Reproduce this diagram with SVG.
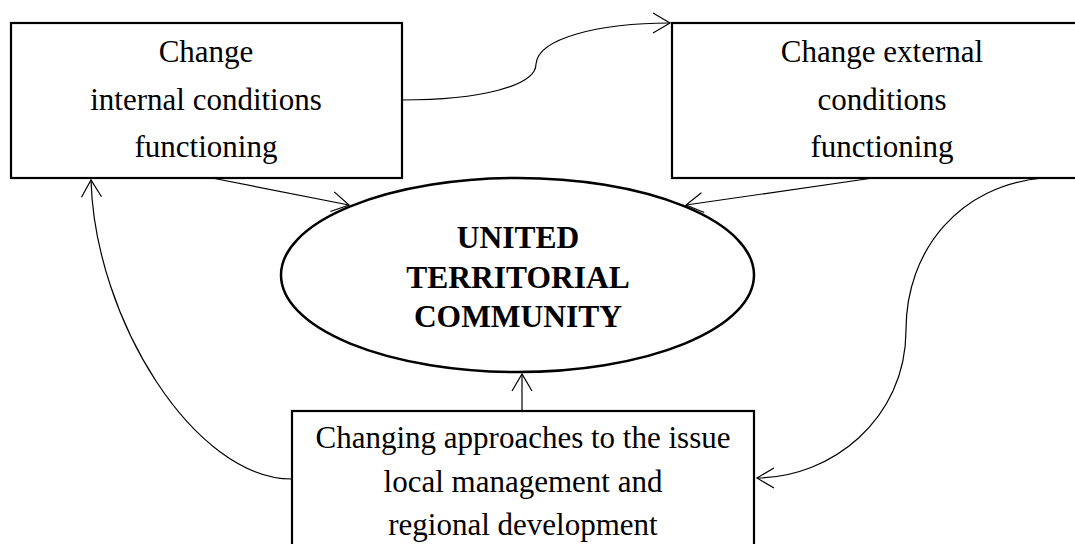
<svg xmlns="http://www.w3.org/2000/svg" width="1075" height="544" viewBox="0 0 1075 544">
<style>
.box{fill:#fff;stroke:#000;stroke-width:2.2}
.ell{fill:#fff;stroke:#000;stroke-width:2.5}
.t{font-family:"Liberation Serif","Times New Roman",serif;font-size:31px;fill:#000;text-anchor:middle}
.b{font-weight:bold;font-size:31.5px}
.c{fill:none;stroke:#000;stroke-width:1.2}
</style>
<defs>
<marker id="arr" viewBox="-20 -12 22 24" refX="0" refY="0" markerWidth="22" markerHeight="24" markerUnits="userSpaceOnUse" orient="auto">
<path d="M-17,-10 L0,0 L-17,10" fill="none" stroke="#000" stroke-width="1.2"/>
</marker>
</defs>
<g id="node-internal">
<rect class="box" x="11" y="23" width="391" height="155"/>
<text class="t" x="206" y="62">Change</text>
<text class="t" x="206" y="110">internal conditions</text>
<text class="t" x="206" y="157">functioning</text>
</g>
<g id="node-external">
<rect class="box" x="672" y="23" width="420" height="155"/>
<text class="t" x="882" y="62">Change external</text>
<text class="t" x="882" y="110">conditions</text>
<text class="t" x="882" y="157">functioning</text>
</g>
<g id="node-community">
<ellipse class="ell" cx="517.5" cy="275" rx="236.5" ry="97"/>
<text class="t b" x="518" y="248">UNITED</text>
<text class="t b" x="518" y="287.5">TERRITORIAL</text>
<text class="t b" x="518" y="326.5">COMMUNITY</text>
</g>
<g id="node-approaches">
<rect class="box" x="292" y="411" width="462" height="150"/>
<text class="t" x="523" y="448">Changing approaches to the issue</text>
<text class="t" x="523" y="491.5">local management and</text>
<text class="t" x="523" y="535">regional development</text>
</g>
<g id="connectors">
<path class="c" d="M402,100 C480,100 536,86 536,64 C538,38 600,23 670,23" marker-end="url(#arr)"/>
<path class="c" d="M212,178 L349,205" marker-end="url(#arr)"/>
<path class="c" d="M873,178 L686,205" marker-end="url(#arr)"/>
<path class="c" d="M522,411 L522,374" marker-end="url(#arr)"/>
<path class="c" d="M292,479 C195,479 95,320 91,180" marker-end="url(#arr)"/>
<path class="c" d="M1043,178 C960,185 906,250 906,330 C906,420 830,478 757,478" marker-end="url(#arr)"/>
</g>
</svg>
